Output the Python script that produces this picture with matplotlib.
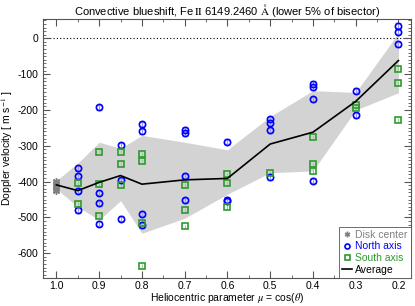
import matplotlib
matplotlib.use("Agg")
import matplotlib.pyplot as plt
import numpy as np
from matplotlib.ticker import MultipleLocator, FuncFormatter

plt.rcParams['font.family'] = ['Liberation Sans', 'DejaVu Sans']
plt.rcParams['mathtext.fontset'] = 'stix'

# Disk center
dc_mu = [1.0, 1.0, 1.0, 1.0, 1.0, 1.0]
dc_v = [-398, -405, -410, -415, -420, -425]

# North axis
north_mu = [0.95, 0.95, 0.95, 0.95,
            0.9, 0.9, 0.9, 0.9,
            0.85, 0.85, 0.85,
            0.8, 0.8, 0.8, 0.8,
            0.7, 0.7, 0.7, 0.7,
            0.6, 0.6, 0.6,
            0.5, 0.5, 0.5, 0.5,
            0.4, 0.4, 0.4, 0.4,
            0.3, 0.3,
            0.2, 0.2, 0.2]
north_v = [-362, -385, -425, -480,
           -192, -431, -460, -518,
           -298, -396, -504,
           -240, -260, -490, -522,
           -255, -265, -383, -452,
           -288, -450, -455,
           -226, -236, -256, -387,
           -127, -136, -170, -398,
           -146, -215,
           35, 18, -17]

# South axis
south_mu = [0.95, 0.95,
            0.9, 0.9, 0.9,
            0.85, 0.85, 0.85,
            0.8, 0.8, 0.8, 0.8,
            0.7, 0.7, 0.7,
            0.6, 0.6, 0.6,
            0.5,
            0.4, 0.4, 0.4,
            0.3, 0.3,
            0.2, 0.2, 0.2]
south_v = [-404, -462,
           -316, -407, -496,
           -316, -351, -409,
           -322, -341, -516, -636,
           -410, -479, -525,
           -380, -404, -470,
           -375,
           -274, -352, -370,
           -186, -195,
           -86, -125, -228]

# Average and band
avg_mu = [1.0, 0.95, 0.9, 0.85, 0.8, 0.7, 0.6, 0.5, 0.4, 0.3, 0.2]
avg_v = [-409, -425, -402, -383, -407, -395, -391, -295, -262, -176, -62]
band_hi = [-397, -348, -290, -307, -271, -290, -311, -218, -146, -151, 15]
band_lo = [-420, -470, -507, -453, -544, -502, -435, -375, -370, -200, -152]

fig = plt.figure(figsize=(4.15, 3.06), dpi=100)
ax = fig.add_axes([0.104, 0.0925, 0.886, 0.8455])

ax.fill_between(avg_mu, band_lo, band_hi, color='#d3d3d3', lw=0, zorder=1)
ax.axhline(0, color='black', ls=(0, (1, 2)), lw=0.8, zorder=1)

blue = '#0000ff'
green = '#2e9a2e'
ax.errorbar(north_mu, north_v, yerr=7, fmt='none', ecolor='#9999ff', elinewidth=0.8,
            capsize=2, zorder=2)
ax.errorbar(south_mu, south_v, yerr=5, fmt='none', ecolor='#99cc99', elinewidth=0.8,
            capsize=0, zorder=2)
ax.plot(dc_mu, dc_v, ls='none', marker=(6, 2, 0), ms=5, mec='#808080', mew=1.0,
        color='#808080', label='Disk center', zorder=3)
ax.plot(north_mu, north_v, ls='none', marker='o', ms=4.5, mfc='none', mec=blue, mew=1.2,
        label='North axis', zorder=3)
ax.plot(south_mu, south_v, ls='none', marker='s', ms=4.5, mfc='none', mec=green, mew=1.2,
        label='South axis', zorder=3)
ax.plot(avg_mu, avg_v, color='black', lw=1.2, label='Average', zorder=4)

ax.set_xlim(1.031, 0.171)
ax.set_ylim(-668, 54)
ax.xaxis.set_major_locator(MultipleLocator(0.1))
ax.xaxis.set_minor_locator(MultipleLocator(0.05))
ax.yaxis.set_major_locator(MultipleLocator(100))
ax.yaxis.set_minor_locator(MultipleLocator(10))
ax.xaxis.set_major_formatter(FuncFormatter(lambda v, p: f"{v:.1f}"))
ax.yaxis.set_major_formatter(FuncFormatter(lambda v, p: f"{int(round(v))}"))
ax.tick_params(which='both', direction='in', top=True, right=True, labelsize=7.5,
               color='#555555')
ax.tick_params(axis='x', pad=2.5)
ax.tick_params(which='major', length=5)
ax.tick_params(which='minor', length=2.5)
for s in ax.spines.values():
    s.set_color('#555555')
    s.set_linewidth(0.8)

ax.set_xlabel(r"Heliocentric parameter $\mu$ = cos($\theta$)", fontsize=7.5, labelpad=0)
ax.set_ylabel(r"Doppler velocity [ m s$^{-1}$ ]", fontsize=7.5, labelpad=2)
ax.set_title(r"Convective blueshift, Fe$\,\mathrm{II}$ 6149.2460 $\mathrm{\AA}$ (lower 5% of bisector)",
             fontsize=8, pad=3)

leg = ax.legend(loc='lower right', fontsize=7.5, borderaxespad=0, handlelength=1.0,
                handletextpad=0.3, markerscale=0.8, labelspacing=0.15, fancybox=False,
                framealpha=1, edgecolor='#555555', borderpad=0.3)
leg.get_frame().set_linewidth(0.6)
cols = ['#808080', blue, green, 'black']
for t, c in zip(leg.get_texts(), cols):
    t.set_color(c)

fig.savefig('out.png', dpi=100)
